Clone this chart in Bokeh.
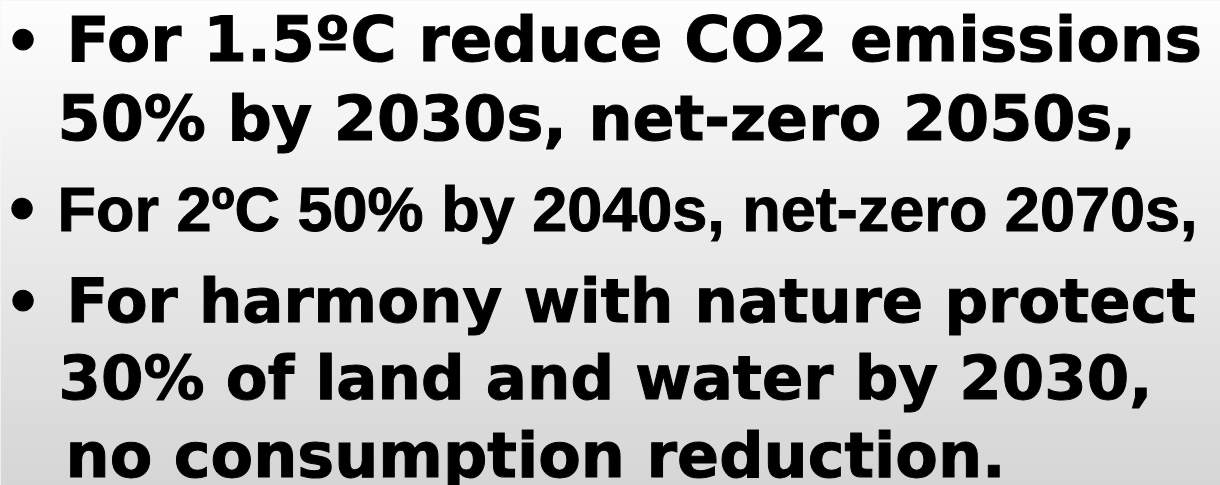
import numpy as np
from bokeh.plotting import figure
from bokeh.models import Range1d
from bokeh.core.properties import value
from bokeh.embed import file_html
from bokeh.resources import INLINE

# ---- content ----
bullet_lines = ["For 1.5ºC reduce CO2 emissions",
                "For 2ºC 50% by 2040s, net-zero 2070s,",
                "For harmony with nature protect"]
continuation_lines = ["50% by 2030s, net-zero 2050s,",
                      "30% of land and water by 2030,",
                      "no consumption reduction."]

# ---- layout (reference pixel coordinates) ----
W, H = 1220, 485
p = figure(width=W, height=H, output_backend="svg", toolbar_location=None,
           x_range=Range1d(0, W), y_range=Range1d(H, 0),
           min_border=0, outline_line_color=None)
p.axis.visible = False
p.grid.visible = False
p.background_fill_color = "#f0f0f0"
p.border_fill_color = "#f0f0f0"

# background gradient (style only)
ny = 200
t = np.linspace(0, 1, ny)
shade = (254 - 40 * t).astype(np.uint8)
img = np.empty((ny, 1), dtype=np.uint32)
view = img.view(dtype=np.uint8).reshape((ny, 1, 4))
view[:, 0, 0] = shade
view[:, 0, 1] = shade
view[:, 0, 2] = shade
view[:, 0, 3] = 255
p.image_rgba(image=[img], x=0, y=0, dw=W, dh=H)

heavy = value("DejaVu Sans")
plain = value("Liberation Sans")
DY = -22  # baseline correction

common = dict(text_color="black", text_baseline="alphabetic", text_font_style="bold",
              text_outline_color="black")

# bullets
bul_y = np.array([63, 232, 324]) + DY
p.text(x=[4, 3, 4], y=bul_y, text=["•"] * 3, text_font=heavy,
       text_font_size="58px", **common)

heavy_x = [66, 57, 66, 58, 65]
heavy_y = np.array([61, 140, 322, 399, 477]) + DY
heavy_t = [bullet_lines[0], continuation_lines[0], bullet_lines[2],
           continuation_lines[1], continuation_lines[2]]
heavy_s = ["63px", "62px", "61px", "61px", "62px"]
for x, y, tx, s in zip(heavy_x, heavy_y, heavy_t, heavy_s):
    p.text(x=[x], y=[y], text=[tx], text_font=heavy, text_font_size=s, **common)

# line 3 (narrower face)
p.text(x=[57], y=[230 + DY], text=[bullet_lines[1]], text_font=plain,
       text_font_size="63px", **common)

open("out.html", "w").write(file_html(p, INLINE))
